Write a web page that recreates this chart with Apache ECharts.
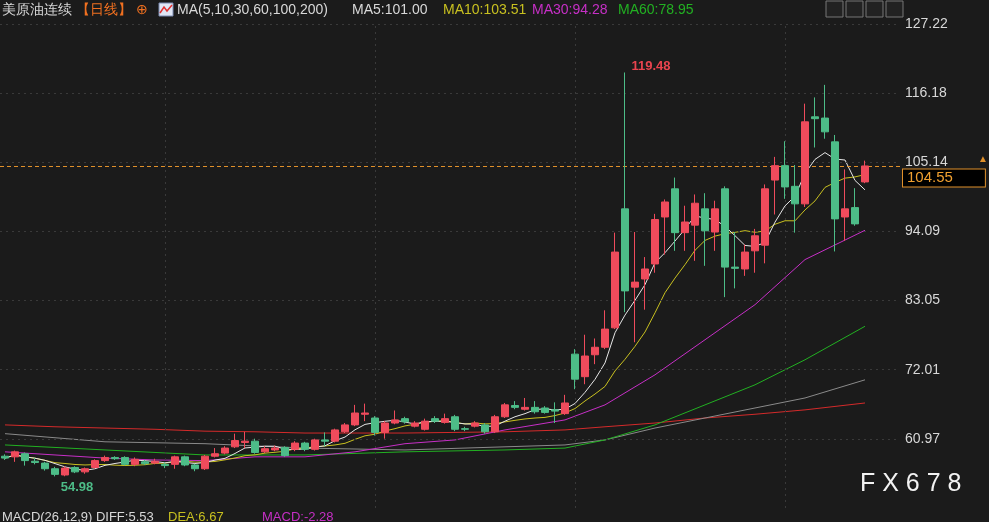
<!DOCTYPE html>
<html lang="zh">
<head>
<meta charset="UTF-8">
<title>美原油连续</title>
<script src="https://cdn.jsdelivr.net/npm/echarts@6/dist/echarts.min.js"></script>
<style>
  * { margin: 0; padding: 0; }
  html, body, #main { width: 989px; height: 522px; background: #1b1b1b; }
</style>
</head>
<body>
<div id="main"></div>
<script>
// daily candles: [open, close, low, high]
const candles = [
  [58.2,57.9,57.6,58.5],[58.1,58.9,57.3,59.1],[58.6,57.5,56.7,58.8],[57.4,57.2,56.9,57.9],
  [57.1,56.2,55.9,57.3],[56.2,55.3,54.98,56.5],[55.2,56.3,55.0,56.6],[56.4,55.7,55.5,56.6],
  [55.7,56.2,55.4,56.4],[56.4,57.5,56.2,57.7],[57.5,58.0,57.3,58.3],[58.0,57.8,57.6,58.2],
  [58.0,56.9,56.7,58.2],[56.9,57.7,56.6,58.0],[57.3,57.0,56.8,57.6],[57.1,57.4,56.9,57.8],
  [56.9,56.7,56.3,57.2],[56.9,58.1,56.2,58.3],[58.1,56.8,56.6,58.3],[56.8,56.2,55.8,57.0],
  [56.2,58.2,56.0,58.4],[58.2,58.6,58.0,59.5],[58.7,59.5,58.5,59.8],[59.7,60.7,59.5,61.8],
  [60.4,60.6,59.5,62.1],[60.6,58.8,58.6,61.0],[58.9,59.4,58.7,59.8],[59.2,59.5,59.0,59.9],
  [59.6,58.3,58.1,59.8],[59.3,60.3,59.0,60.6],[60.3,59.3,59.0,60.5],[59.3,60.8,59.1,61.0],
  [60.8,60.6,59.8,62.0],[60.6,62.4,60.4,62.6],[62.1,63.2,61.9,63.5],[63.2,65.1,63.0,66.4],
  [64.9,65.1,63.8,66.6],[64.3,62.0,61.5,64.6],[62.0,63.5,61.0,63.8],[63.5,64.0,63.3,65.5],
  [64.2,63.7,63.4,64.5],[63.0,63.5,62.8,63.8],[62.5,63.8,62.3,64.2],[64.2,63.8,63.5,64.6],
  [63.6,64.2,63.4,65.0],[64.5,62.5,62.2,64.8],[62.6,62.5,62.2,62.9],[63.0,63.5,62.8,63.8],
  [63.2,62.1,61.8,63.5],[62.1,64.5,61.9,64.8],[64.5,66.4,64.3,66.7],[66.3,66.0,65.7,67.0],
  [65.7,66.0,65.5,67.5],[66.0,65.3,65.0,67.0],[65.9,65.2,65.0,66.2],[65.6,65.4,63.5,66.8],
  [65.0,66.7,64.8,68.0],[74.5,70.5,68.9,75.3],[70.9,74.2,69.7,77.6],[74.4,75.6,72.9,77.0],
  [75.6,78.5,75.3,81.5],[78.7,90.8,78.5,93.9],[97.7,84.6,81.2,119.48],[85.2,86.0,76.4,94.0],
  [86.5,88.1,81.6,90.0],[88.9,96.0,87.5,96.9],[96.4,98.8,90.4,99.2],[100.9,93.9,91.0,102.7],
  [93.9,95.6,91.0,98.2],[95.1,98.6,89.4,100.0],[97.7,94.2,88.6,100.2],[94.0,97.7,91.0,99.0],
  [100.9,88.4,83.6,101.3],[88.4,88.2,85.0,94.0],[88.1,90.8,87.0,92.0],[91.0,93.4,87.5,94.5],
  [91.9,100.9,89.0,101.6],[102.3,104.6,96.8,106.0],[104.6,101.2,99.3,108.5],[101.3,98.5,93.9,104.7],
  [98.5,111.6,98.0,114.5],[112.4,112.1,107.5,115.5],[112.2,110.0,108.9,117.5],[108.4,96.1,90.9,109.5],
  [96.4,97.7,92.6,104.0],[97.9,95.3,95.0,101.0],[102.0,104.55,101.8,105.4]
];
const categories = candles.map((c, i) => 'D' + (i + 1)).concat(['e1', 'e2', 'e3']);

// long moving averages: [candle index, value]
const ma30 = [[0,58.9],[5,58.4],[10,57.9],[15,57.6],[20,57.5],[25,58.1],[30,58.1],[35,58.9],[40,60.2],[45,60.8],[50,62.4],[56,64.0],[60,66.4],[65,71.2],[70,76.8],[75,82.4],[80,89.6],[86,94.28]];
const ma60 = [[0,60.0],[10,59.2],[20,58.4],[30,58.4],[40,58.9],[50,59.2],[56,59.5],[60,60.8],[65,63.2],[70,66.4],[75,69.6],[80,73.6],[86,78.95]];
const ma100 = [[0,61.8],[10,60.5],[20,60.2],[30,59.5],[40,59.2],[50,59.7],[56,60.0],[60,60.8],[65,62.7],[70,64.3],[75,65.9],[80,67.5],[86,70.4]];
const ma200 = [[0,63.2],[5,62.9],[10,62.7],[15,62.5],[20,62.2],[25,62.1],[30,61.9],[40,61.9],[50,62.1],[56,62.4],[60,62.9],[65,63.5],[70,64.3],[75,64.9],[80,65.6],[86,66.7]];
const tickLabels = [60.97, 72.01, 83.05, 94.09, 105.14, 116.18, 127.22];
const lastPrice = 104.55;

function movingAvg(n) {
  return candles.map((c, i) => {
    const from = Math.max(0, i - n + 1);
    let s = 0;
    for (let k = from; k <= i; k++) s += candles[k][1];
    return +(s / (i - from + 1)).toFixed(2);
  });
}

const UP = '#ef4b5c', DOWN = '#4dbd88';
const chart = echarts.init(document.getElementById('main'));

function maLine(name, data, color) {
  return {
    name, type: 'line', data, symbol: 'none', smooth: false,
    lineStyle: { color, width: 1 }, z: 3, silent: true
  };
}

function label(x, y, text, fill, size) {
  return { type: 'text', left: x, top: y, style: { text, fill, fontSize: size || 14 } };
}

const option = {
  backgroundColor: '#1b1b1b',
  animation: false,
  grid: { left: 0, right: 89, top: 24, bottom: 14 },
  xAxis: {
    type: 'category', data: categories, boundaryGap: true,
    axisLine: { show: false }, axisTick: { show: false }, axisLabel: { show: false },
    splitLine: { show: false }
  },
  yAxis: {
    type: 'value', min: 49.93, max: 127.22, position: 'right',
    axisLine: { show: false }, axisTick: { show: false }, axisLabel: { show: false },
    splitLine: { show: false }
  },
  series: [
    {
      name: 'K', type: 'candlestick', data: candles, barWidth: 7, z: 5,
      itemStyle: { color: UP, color0: DOWN, borderColor: UP, borderColor0: DOWN, borderWidth: 1 },
      markPoint: {
        symbol: 'circle', symbolSize: 1, itemStyle: { color: 'rgba(0,0,0,0)' },
        data: [
          { coord: [62, 119.48], label: { show: true, formatter: '119.48', color: '#e9444f', fontSize: 13, fontWeight: 'bold', position: 'right', distance: 6, offset: [0, -6] } },
          { coord: [5, 54.98], label: { show: true, formatter: '54.98', color: '#4dbd88', fontSize: 13, fontWeight: 'bold', position: 'bottom', distance: 4, offset: [22, 0] } }
        ]
      },
      markLine: {
        symbol: 'none', silent: true,
        data: [
          { yAxis: lastPrice, lineStyle: { color: '#e0902a', type: [4, 3], width: 1 },
            label: { show: true, position: 'end', formatter: '104.55', color: '#f0a030', fontSize: 15,
              backgroundColor: '#000', borderColor: '#e0902a', borderWidth: 1, padding: [1, 32, 1, 4], distance: 3, offset: [0, 12] } }
        ]
      }
    },
    {
      name: 'grid', type: 'line', data: [], silent: true,
      markLine: {
        symbol: 'none', silent: true,
        lineStyle: { color: '#3a3a3a', type: [2, 4], width: 1 },
        label: { show: true, position: 'end', color: '#d8d8d8', fontSize: 14, distance: 5 },
        data: tickLabels.map(v => ({ yAxis: v, label: { formatter: v.toFixed(2) } }))
          .concat([16, 37, 57, 78].map(i => ({ xAxis: i, label: { show: false } })))
      }
    },
    maLine('MA200', ma200, '#d42a2a'),
    maLine('MA100', ma100, '#8a8a8a'),
    maLine('MA60', ma60, '#22b022'),
    maLine('MA30', ma30, '#c62fc6'),
    maLine('MA10', movingAvg(10), '#c8c020'),
    maLine('MA5', movingAvg(5), '#e6e6e6')
  ],
  graphic: [
    label(2, 3, '美原油连续', '#d8d8d8'),
    label(76, 3, '【日线】', '#f07020'),
    label(136, 3, '⊕', '#f07020'),
    { type: 'rect', shape: { x: 159, y: 3, width: 14, height: 13 }, style: { fill: '#dfe6f5', stroke: '#7a8ab0' } },
    { type: 'polyline', shape: { points: [[160, 13], [164, 7], [167, 11], [172, 5]] }, style: { stroke: '#e03030', lineWidth: 1.5 } },
    label(177, 3, 'MA(5,10,30,60,100,200)', '#d8d8d8'),
    label(352, 3, 'MA5:101.00', '#d8d8d8'),
    label(443, 3, 'MA10:103.51', '#c8c020'),
    label(532, 3, 'MA30:94.28', '#c62fc6'),
    label(618, 3, 'MA60:78.95', '#22b022'),
    label(2, 511, 'MACD(26,12,9) DIFF:5.53', '#d8d8d8', 13),
    label(168, 511, 'DEA:6.67', '#c8c020', 13),
    label(262, 511, 'MACD:-2.28', '#c62fc6', 13),
    { type: 'text', left: 860, top: 472, style: { text: 'F X 6 7 8', fill: '#f2f2f2', fontSize: 25, fontFamily: 'Liberation Sans' } },
    ...[0, 1, 2, 3].map(k => ({ type: 'rect', shape: { x: 826 + k * 20, y: 1, width: 17, height: 16 },
      style: { fill: '#222', stroke: '#777', lineWidth: 1 } })),
    { type: 'text', left: 978, top: 154, style: { text: '▲', fill: '#e0902a', fontSize: 10 } }
  ]
};
chart.setOption(option);
</script>
</body>
</html>
